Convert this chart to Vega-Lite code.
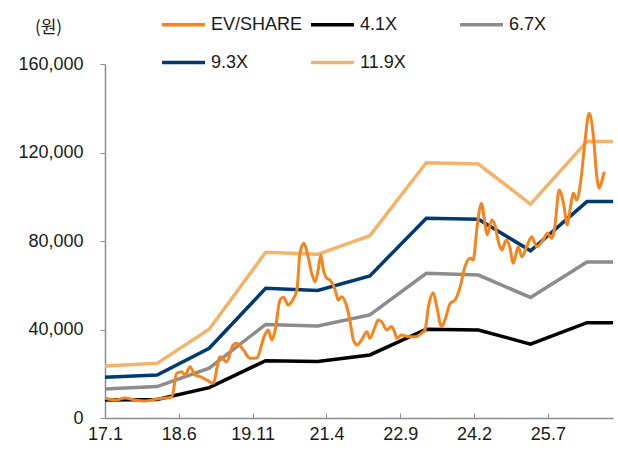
{
  "$schema": "https://vega.github.io/schema/vega-lite/v6.json",
  "width": 508,
  "height": 354,
  "autosize": {"type": "none"},
  "padding": {"left": 105, "top": 64, "right": 5, "bottom": 35},
  "background": "white",
  "config": {
    "view": {"stroke": null},
    "font": "Liberation Sans"
  },
  "datasets": {
    "ev": [
      {"t": 0, "v": 8900}, {"t": 2.3, "v": 8100}, {"t": 4.6, "v": 9000}, {"t": 6.9, "v": 8100},
      {"t": 9.2, "v": 7700}, {"t": 11.9, "v": 8600}, {"t": 13.8, "v": 9000}, {"t": 15.4, "v": 9500},
      {"t": 16.5, "v": 20200}, {"t": 17.7, "v": 20900}, {"t": 18.4, "v": 19400}, {"t": 19.6, "v": 23200},
      {"t": 20.7, "v": 19400}, {"t": 21.9, "v": 18700}, {"t": 23.4, "v": 17200}, {"t": 24.9, "v": 15700},
      {"t": 26.5, "v": 27700}, {"t": 28.0, "v": 25400}, {"t": 29.5, "v": 33000}, {"t": 30.3, "v": 33800},
      {"t": 31.9, "v": 30700}, {"t": 33.4, "v": 27000}, {"t": 34.9, "v": 27100}, {"t": 36.8, "v": 37500},
      {"t": 37.6, "v": 39800}, {"t": 38.4, "v": 35300}, {"t": 39.2, "v": 39800}, {"t": 40.3, "v": 53300},
      {"t": 41.1, "v": 54600}, {"t": 42.2, "v": 51100}, {"t": 43.0, "v": 52600}, {"t": 44.2, "v": 57900},
      {"t": 44.9, "v": 74400}, {"t": 45.8, "v": 79000}, {"t": 46.6, "v": 74400}, {"t": 47.6, "v": 65400},
      {"t": 48.4, "v": 61600}, {"t": 49.1, "v": 66900}, {"t": 49.7, "v": 73700}, {"t": 50.3, "v": 66900},
      {"t": 51.1, "v": 63100}, {"t": 51.8, "v": 62400}, {"t": 53.0, "v": 57900}, {"t": 53.7, "v": 53300},
      {"t": 54.5, "v": 54800}, {"t": 55.7, "v": 50300}, {"t": 56.4, "v": 44300}, {"t": 57.2, "v": 35300},
      {"t": 58.1, "v": 33000}, {"t": 59.1, "v": 35300}, {"t": 60.3, "v": 39000}, {"t": 61.0, "v": 36000},
      {"t": 62.2, "v": 41300}, {"t": 62.9, "v": 44300}, {"t": 63.7, "v": 43500}, {"t": 64.9, "v": 39800},
      {"t": 66.0, "v": 41300}, {"t": 66.8, "v": 38300}, {"t": 67.2, "v": 36000}, {"t": 68.3, "v": 37500},
      {"t": 69.9, "v": 36700}, {"t": 71.4, "v": 36700}, {"t": 72.9, "v": 38300}, {"t": 73.7, "v": 39800},
      {"t": 74.5, "v": 50300}, {"t": 75.6, "v": 56600}, {"t": 76.4, "v": 50300}, {"t": 77.5, "v": 41300},
      {"t": 78.3, "v": 44300}, {"t": 79.5, "v": 51800}, {"t": 80.6, "v": 53300}, {"t": 81.8, "v": 59300},
      {"t": 82.9, "v": 68400}, {"t": 84.1, "v": 72200}, {"t": 84.8, "v": 71400}, {"t": 85.7, "v": 86500},
      {"t": 86.7, "v": 97000}, {"t": 87.5, "v": 88000}, {"t": 88.0, "v": 82700}, {"t": 89.1, "v": 89500},
      {"t": 89.8, "v": 87200}, {"t": 90.6, "v": 79700}, {"t": 91.4, "v": 75900}, {"t": 92.4, "v": 80500},
      {"t": 93.3, "v": 76700}, {"t": 94.0, "v": 69900}, {"t": 95.2, "v": 77400}, {"t": 96.0, "v": 72900},
      {"t": 97.1, "v": 77400}, {"t": 98.3, "v": 81900}, {"t": 99.4, "v": 77400}, {"t": 100.9, "v": 80500},
      {"t": 101.9, "v": 83500}, {"t": 102.9, "v": 81200}, {"t": 103.6, "v": 86500}, {"t": 104.6, "v": 103100},
      {"t": 105.6, "v": 97000}, {"t": 106.5, "v": 87200}, {"t": 107.1, "v": 94000}, {"t": 107.9, "v": 101600},
      {"t": 108.6, "v": 98500}, {"t": 109.6, "v": 107600}, {"t": 110.5, "v": 124200}, {"t": 111.5, "v": 137700},
      {"t": 112.5, "v": 127100}, {"t": 113.2, "v": 110600}, {"t": 113.8, "v": 103800}, {"t": 114.6, "v": 108300},
      {"t": 115.0, "v": 111300}
    ],
    "bands": [
      {"s": "4.1X", "t": 0, "v": 8100}, {"s": "4.1X", "t": 12, "v": 8400}, {"s": "4.1X", "t": 24, "v": 13700},
      {"s": "4.1X", "t": 37, "v": 25900}, {"s": "4.1X", "t": 49, "v": 25500}, {"s": "4.1X", "t": 61, "v": 28500},
      {"s": "4.1X", "t": 74, "v": 40100}, {"s": "4.1X", "t": 86, "v": 39800}, {"s": "4.1X", "t": 98, "v": 33400},
      {"s": "4.1X", "t": 111, "v": 43100}, {"s": "4.1X", "t": 117, "v": 43100},
      {"s": "6.7X", "t": 0, "v": 13100}, {"s": "6.7X", "t": 12, "v": 14200}, {"s": "6.7X", "t": 24, "v": 22500},
      {"s": "6.7X", "t": 37, "v": 42300}, {"s": "6.7X", "t": 49, "v": 41600}, {"s": "6.7X", "t": 61, "v": 46600},
      {"s": "6.7X", "t": 74, "v": 65400}, {"s": "6.7X", "t": 86, "v": 64600}, {"s": "6.7X", "t": 98, "v": 54500},
      {"s": "6.7X", "t": 111, "v": 70500}, {"s": "6.7X", "t": 117, "v": 70500},
      {"s": "9.3X", "t": 0, "v": 18400}, {"s": "9.3X", "t": 12, "v": 19400}, {"s": "9.3X", "t": 24, "v": 31500},
      {"s": "9.3X", "t": 37, "v": 58600}, {"s": "9.3X", "t": 49, "v": 57600}, {"s": "9.3X", "t": 61, "v": 64200},
      {"s": "9.3X", "t": 74, "v": 90300}, {"s": "9.3X", "t": 86, "v": 89800}, {"s": "9.3X", "t": 98, "v": 75600},
      {"s": "9.3X", "t": 111, "v": 97800}, {"s": "9.3X", "t": 117, "v": 97800},
      {"s": "11.9X", "t": 0, "v": 23500}, {"s": "11.9X", "t": 12, "v": 24700}, {"s": "11.9X", "t": 24, "v": 40100},
      {"s": "11.9X", "t": 37, "v": 74900}, {"s": "11.9X", "t": 49, "v": 74000}, {"s": "11.9X", "t": 61, "v": 82400},
      {"s": "11.9X", "t": 74, "v": 115400}, {"s": "11.9X", "t": 86, "v": 114800}, {"s": "11.9X", "t": 98, "v": 96700},
      {"s": "11.9X", "t": 111, "v": 125000}, {"s": "11.9X", "t": 117, "v": 125000}
    ]
  },
  "encoding": {
    "x": {
      "field": "t", "type": "quantitative",
      "scale": {"domain": [0, 117], "nice": false, "zero": false},
      "axis": {
        "title": null,
        "values": [0, 17, 34, 51, 68, 85, 102],
        "labelExpr": "(17 + floor(datum.value / 12)) + '.' + (datum.value % 12 + 1)",
        "grid": false,
        "domainColor": "#8c8c8c",
        "domainWidth": 1.5,
        "tickColor": "#8c8c8c",
        "tickSize": -5,
        "tickWidth": 1,
        "labelPadding": 12,
        "labelFontSize": 18,
        "labelColor": "#1a1a1a",
        "labelFont": "Liberation Sans",
        "labelFlush": false,
        "labelOverlap": false
      }
    },
    "y": {
      "field": "v", "type": "quantitative",
      "scale": {"domain": [0, 160000], "nice": false},
      "axis": {
        "title": "(원)",
        "titleAngle": 0,
        "titleX": -57,
        "titleY": -37,
        "titleAlign": "center",
        "titleBaseline": "middle",
        "titleFont": "Noto Sans CJK KR",
        "titleFontWeight": "normal",
        "titleFontSize": 17,
        "titleColor": "#1a1a1a",
        "values": [0, 40000, 80000, 120000, 160000],
        "format": ",.0f",
        "grid": false,
        "domainColor": "#8c8c8c",
        "domainWidth": 1.5,
        "tickColor": "#8c8c8c",
        "tickSize": 5,
        "labelPadding": 17,
        "labelFontSize": 18,
        "labelColor": "#1a1a1a",
        "labelFont": "Liberation Sans",
        "labelOverlap": false
      }
    },
    "color": {
      "field": "s", "type": "nominal",
      "scale": {
        "domain": ["EV/SHARE", "4.1X", "6.7X", "9.3X", "11.9X"],
        "range": ["#f5841f", "#000000", "#8c8c8c", "#003a70", "#f2b36b"]
      },
      "legend": {
        "title": null,
        "orient": "none",
        "direction": "horizontal",
        "legendX": 55,
        "legendY": -63,
        "columns": 3,
        "gridAlign": "all",
        "columnPadding": 1,
        "rowPadding": 5,
        "symbolType": "stroke",
        "symbolSize": 1849,
        "symbolStrokeWidth": 3.5,
        "labelOffset": 4,
        "labelFontSize": 18,
        "labelFont": "Liberation Sans",
        "labelColor": "#1a1a1a",
        "labelLimit": 200
      }
    }
  },
  "layer": [
    {
      "data": {"name": "bands"},
      "mark": {"type": "line", "strokeWidth": 3.5, "strokeJoin": "miter"},
      "encoding": {
        "detail": {"field": "s"},
        "strokeWidth": {
          "field": "s", "type": "nominal",
          "scale": {"domain": ["4.1X", "6.7X", "9.3X", "11.9X"], "range": [3.5, 3.5, 3.5, 4.5]},
          "legend": null
        }
      }
    },
    {
      "data": {"name": "ev"},
      "transform": [{"calculate": "'EV/SHARE'", "as": "s"}],
      "mark": {"type": "line", "strokeWidth": 3, "interpolate": "monotone"},
      "encoding": {}
    }
  ]
}
